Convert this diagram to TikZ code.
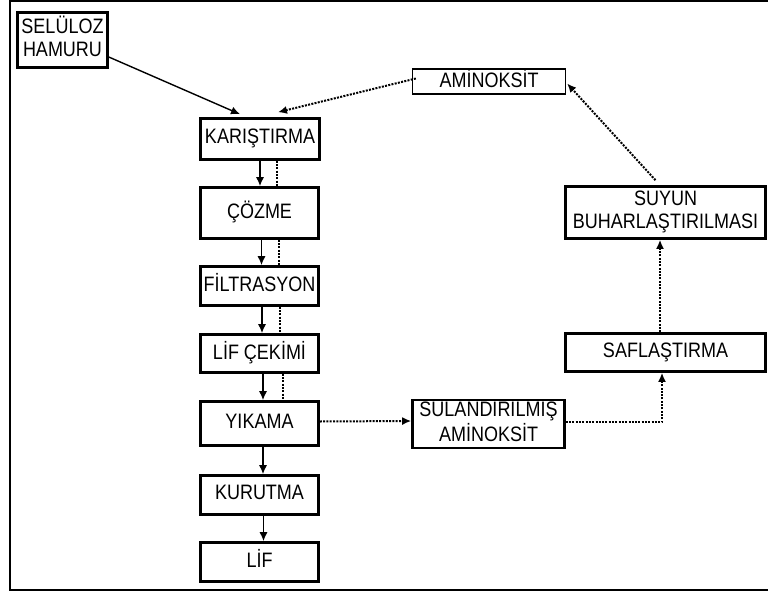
\documentclass[tikz,border=0pt]{standalone}
\usepackage{fontspec}
\usepackage{graphicx}
\setmainfont{Liberation Sans}
\usetikzlibrary{arrows.meta,calc}

% labels are set slightly taller than the font's natural proportions
\newcommand\boxtext[1]{\scalebox{1}[1.16]{\begin{tabular}{@{}c@{}}#1\end{tabular}}}

\begin{document}
\begin{tikzpicture}[x=1pt,y=-1pt,
  box/.style={draw,line width=2.6pt,inner sep=0pt,align=center,
    font=\fontsize{18}{20}\selectfont},
  thinbox/.style={box,line width=1.3pt},
  flow/.style={line width=1.4pt,-{Latex[length=9pt,width=8pt]}},
  recycle/.style={line width=2pt,dash pattern=on 2pt off 1.3pt},
  recyclearrow/.style={recycle,-{Latex[length=9pt,width=8pt]}}
]
\useasboundingbox (0,0) rectangle (768,594);
% outer frame (right edge runs off the page)
\draw[line width=1.6pt] (790,1) -- (10,1) -- (10,590) -- (790,590);

% main fibre line
\node[box,minimum width=90,minimum height=55] (sel) at (62.5,40) {\boxtext{SELÜLOZ\\HAMURU}};
\node[box,minimum width=119,minimum height=41] (kar) at (260,139) {\boxtext{KARIŞTIRMA}};
\node[box,minimum width=118,minimum height=51] (coz) at (259.5,213) {\boxtext{ÇÖZME}};
\node[box,minimum width=118,minimum height=39] (fil) at (259.5,286) {\boxtext{FİLTRASYON}};
\node[box,minimum width=118,minimum height=38] (cek) at (259.5,353.5) {\boxtext{LİF ÇEKİMİ}};
\node[box,minimum width=118,minimum height=44] (yik) at (259.5,423.5) {\boxtext{YIKAMA}};
\node[box,minimum width=118,minimum height=39] (kur) at (259.5,495) {\boxtext{KURUTMA}};
\node[box,minimum width=118,minimum height=39] (lif) at (259.5,562) {\boxtext{LİF}};

% solvent recovery loop
\node[thinbox,minimum width=153,minimum height=24] (amin) at (489,81.5) {\boxtext{AMİNOKSİT}};
\node[box,minimum width=152,minimum height=47] (sul) at (488.5,424) {\boxtext{SULANDIRILMIŞ\\AMİNOKSİT}};
\node[box,minimum width=200,minimum height=52] (suy) at (665.5,212.5) {\boxtext{SUYUN\\BUHARLAŞTIRILMASI}};
\node[box,minimum width=200,minimum height=38] (saf) at (665.5,352.5) {\boxtext{SAFLAŞTIRMA}};

% solid process arrows
\draw[flow] ($(sel.east)+(0,17)$) -- ($(kar.north)+(-20,-3)$);
\draw[flow] ($(kar.south)+(0,0)$) -- ($(coz.north)+(0.5,0)$);
\draw[flow] ($(coz.south)+(2,0)$) -- ($(fil.north)+(2,0)$);
\draw[flow] ($(fil.south)+(2.5,0)$) -- ($(cek.north)+(2.5,0)$);
\draw[flow] ($(cek.south)+(3.5,0)$) -- ($(yik.north)+(3.5,0)$);
\draw[flow] ($(yik.south)+(3.5,0)$) -- ($(kur.north)+(3.5,0)$);
\draw[flow] ($(kur.south)+(4,0)$) -- ($(lif.north)+(4,0)$);

% dotted solvent lines beside the main line
\draw[recycle] ($(kar.south)+(17,0)$) -- ($(coz.north)+(17.5,0)$);
\draw[recycle] ($(coz.south)+(19,0)$) -- ($(fil.north)+(19,0)$);
\draw[recycle] ($(fil.south)+(20.5,0)$) -- ($(cek.north)+(20.5,0)$);
\draw[recycle] ($(cek.south)+(23,0)$) -- ($(yik.north)+(23,0)$);

% recovery loop arrows
\draw[recyclearrow] ($(yik.east)+(0,-2)$) -- ($(sul.west)+(0,-3)$);
\draw[recyclearrow] ($(sul.east)+(0,-2)$) -| ($(saf.south)+(-3.5,0)$);
\draw[recyclearrow] ($(saf.north)+(-5.5,0)$) -- ($(suy.south)+(-5.5,0)$);
\draw[recyclearrow] ($(suy.north)+(-10,-5)$) -- ($(amin.east)+(1,2)$);
\draw[recyclearrow] ($(amin.west)+(4,-3)$) -- ($(kar.north)+(18,-5)$);
\end{tikzpicture}
\end{document}
